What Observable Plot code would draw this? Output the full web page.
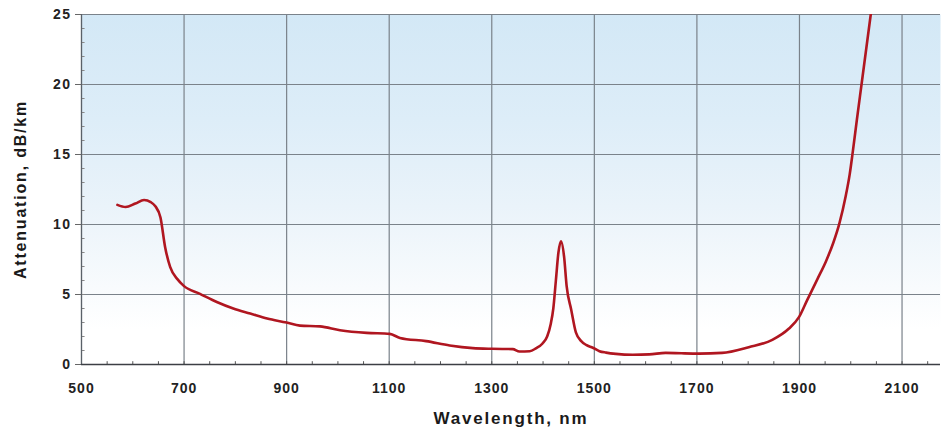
<!DOCTYPE html>
<html>
<head>
<meta charset="utf-8">
<script src="https://cdn.jsdelivr.net/npm/d3@7"></script>
<script src="https://cdn.jsdelivr.net/npm/@observablehq/plot@0.6"></script>
<style>
  html, body { margin: 0; padding: 0; background: #ffffff; }
  #chart svg { display: block; }
</style>
</head>
<body>
<div id="chart"></div>
<script>
// Data
const wavelength = [570, 586, 605, 622, 635, 644, 654, 663, 673, 687, 700, 731, 765, 796, 829, 862, 900, 926, 965, 1004, 1056, 1101, 1121, 1172, 1218, 1263, 1300, 1341, 1354, 1374, 1386, 1399, 1408, 1415, 1420, 1425, 1430, 1435, 1441, 1446, 1455, 1464, 1475, 1484, 1497, 1510, 1523, 1542, 1575, 1607, 1639, 1670, 1704, 1749, 1801, 1847, 1879, 1899, 1915, 1935, 1952, 1966, 1978, 1990, 1998, 2004, 2012, 2021, 2030, 2039];
const attenuation = [11.4, 11.25, 11.5, 11.75, 11.6, 11.3, 10.5, 8.4, 6.95, 6.1, 5.6, 5.05, 4.45, 4.0, 3.64, 3.28, 3.0, 2.78, 2.72, 2.45, 2.26, 2.19, 1.9, 1.67, 1.36, 1.17, 1.12, 1.1, 0.93, 0.95, 1.15, 1.5, 2.0, 2.9, 4.0, 6.0, 8.0, 8.8, 7.7, 5.6, 3.9, 2.3, 1.65, 1.4, 1.2, 0.95, 0.85, 0.76, 0.7, 0.72, 0.83, 0.8, 0.78, 0.83, 1.24, 1.76, 2.55, 3.38, 4.6, 6.1, 7.4, 8.7, 10.1, 12.0, 13.6, 15.2, 17.5, 20, 22.5, 25];

const xTicks = [500, 700, 900, 1100, 1300, 1500, 1700, 1900, 2100];
const yTicks = [0, 5, 10, 15, 20, 25];
const xMinorTicks = d3.range(500, 2175, 50);
const yMinorTicks = d3.range(0, 25, 1);

const xTitle = "Wavelength, nm";
const yTitle = "Attenuation, dB/km";

const data = wavelength.map((w, i) => ({w, a: attenuation[i]}));

const gridColor = "#7a828a";

const plot = Plot.plot({
  width: 943,
  height: 436,
  marginLeft: 81,
  marginRight: 3,
  marginTop: 14,
  marginBottom: 72,
  style: {fontFamily: "'Liberation Sans', Arial, sans-serif", background: "transparent", color: "#222"},
  x: {domain: [500, 2175]},
  y: {domain: [0, 25]},
  marks: [
    Plot.frame({fill: "url(#bgGrad)", stroke: null}),
    Plot.gridX(xTicks, {stroke: gridColor, strokeOpacity: 1, strokeWidth: 1.2}),
    Plot.gridY(yTicks, {stroke: gridColor, strokeOpacity: 1, strokeWidth: 1.2}),
    Plot.ruleX(xMinorTicks, {y1: 0, y2: 0.2, stroke: "#555", strokeWidth: 1}),
    Plot.ruleY(yMinorTicks, {x1: 500, x2: 507, stroke: "#888", strokeWidth: 1}),
    Plot.ruleX([500], {stroke: "#5a6168", strokeWidth: 1.2}),
    Plot.ruleY([0], {stroke: "#3c3f44", strokeWidth: 1.6}),
    Plot.axisY(yTicks, {tickSize: 6, tickPadding: 4, fontSize: 14, fontWeight: "bold", label: null, stroke: "#666", tickFormat: d => String(d)}),
    Plot.axisX(xTicks, {tickSize: 0, tickPadding: 19, fontSize: 14, fontWeight: "bold", label: null, tickFormat: d => String(d)}),
    Plot.line(data, {x: "w", y: "a", stroke: "#b01620", strokeWidth: 2.6, curve: "monotone-x", clip: true}),
    Plot.text([xTitle], {frameAnchor: "bottom", dy: 59, fontSize: 17, fontWeight: "bold", fill: "#1a1a1a"}),
    Plot.text([yTitle], {frameAnchor: "left", textAnchor: "middle", dx: -61, rotate: -90, fontSize: 16, fontWeight: "bold", fill: "#1a1a1a"})
  ]
});

const svg = d3.select(plot);
svg.insert("defs", ":first-child").html(`
  <linearGradient id="bgGrad" x1="0" y1="0" x2="0" y2="1">
    <stop offset="0" stop-color="#d3e8f6"/>
    <stop offset="0.3" stop-color="#ddedf8"/>
    <stop offset="0.55" stop-color="#eaf3fa"/>
    <stop offset="0.78" stop-color="#f8fbfd"/>
    <stop offset="0.9" stop-color="#ffffff"/>
    <stop offset="1" stop-color="#ffffff"/>
  </linearGradient>`);
svg.selectAll('g[aria-label="y-axis tick label"] text').style("letter-spacing", "1.5px");
svg.selectAll('g[aria-label="x-axis tick label"] text').style("letter-spacing", "1px");
svg.selectAll('g[aria-label="text"] text').style("letter-spacing", "1.8px");

document.getElementById("chart").appendChild(plot);
</script>
</body>
</html>
